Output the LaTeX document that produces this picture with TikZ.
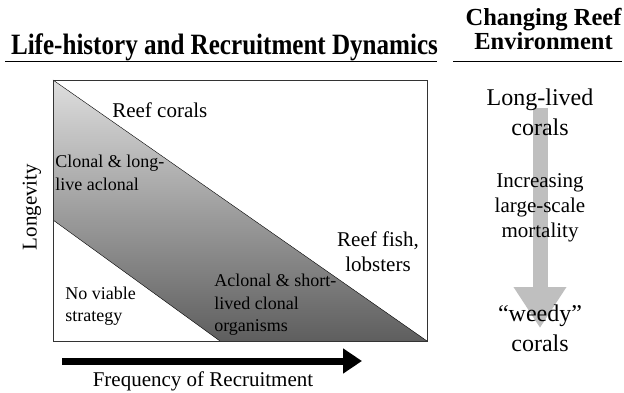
\documentclass[tikz,border=0pt]{standalone}
\usepackage{fontspec}
\setmainfont{Liberation Serif}
\usetikzlibrary{arrows.meta,positioning}
\tikzstyle{heading} = [font=\bfseries\fontsize{24.5}{24}\selectfont, align=center, inner sep=0pt]
\tikzstyle{label} = [font=\fontsize{21}{25}\selectfont, align=center, inner sep=0pt]
\tikzstyle{region} = [font=\fontsize{18}{22.5}\selectfont, align=left, inner sep=0pt]
\tikzstyle{env} = [font=\fontsize{24}{30}\selectfont, align=center, inner sep=0pt]

\begin{document}
\begin{tikzpicture}[x=1pt,y=-1pt,semithick]
  \useasboundingbox (0,0) rectangle (624,393);

  % headings
  \node[heading,font=\bfseries\fontsize{29.5}{30}\selectfont,xscale=0.85,anchor=base]
    (title) at (224.5,55) {Life-history and Recruitment Dynamics};
  \node[heading,anchor=base] (envtitle) at (543.5,50) {Changing Reef\\Environment};
  \draw[thick] (5,61) -- (437,61);
  \draw[thick] (453,61) -- (622,61);

  % strategy plot
  \coordinate (tl) at (53,80);
  \coordinate (br) at (427,341);
  \coordinate (ml) at (53,220);
  \coordinate (mb) at (220,341);
  \shade[top color=black!13, bottom color=black!63, shading angle=0]
    (tl) -- (br) -- (mb) -- (ml) -- cycle;
  \draw[thin] (tl) -- (br);
  \draw[thin] (ml) -- (mb);
  \draw[thin,black!80] (tl) rectangle (br);

  \node[label,anchor=west]  (reefcorals) at (112,110) {Reef corals};
  \node[region,anchor=west] (clonal)     at (55,173)  {Clonal \& long-\\live aclonal};
  \node[label]              (reeffish)   at (378,252) {Reef fish,\\lobsters};
  \node[region,anchor=west] (noviable)   at (65,306)  {No viable\\strategy};
  \node[region,anchor=west] (aclonal)    at (214,305) {Aclonal \& short-\\lived clonal\\organisms};

  % axes
  \node[label,rotate=90] (longevity) at (32,207) {Longevity};
  \coordinate (freqstart) at (62,361);
  \coordinate (freqend)   at (362,361);
  \draw[line width=7pt,-{Triangle[length=19pt,width=24pt]}] (freqstart) -- (freqend);
  \node[label] (frequency) at (203,381) {Frequency of Recruitment};

  % changing environment
  \coordinate (envtop) at (540,108);
  \coordinate (envtip) at (540,328);
  \draw[black!25,line width=15pt,-{Triangle[length=41pt,width=50pt]}] (envtop) -- (envtip);
  \node[env]   (longlived) at (540,112) {Long-lived\\corals};
  \node[label] (mortality) at (540,208) {Increasing\\large-scale\\mortality};
  \node[env]   (weedy)     at (540,328) {``weedy''\\corals};
\end{tikzpicture}
\end{document}
